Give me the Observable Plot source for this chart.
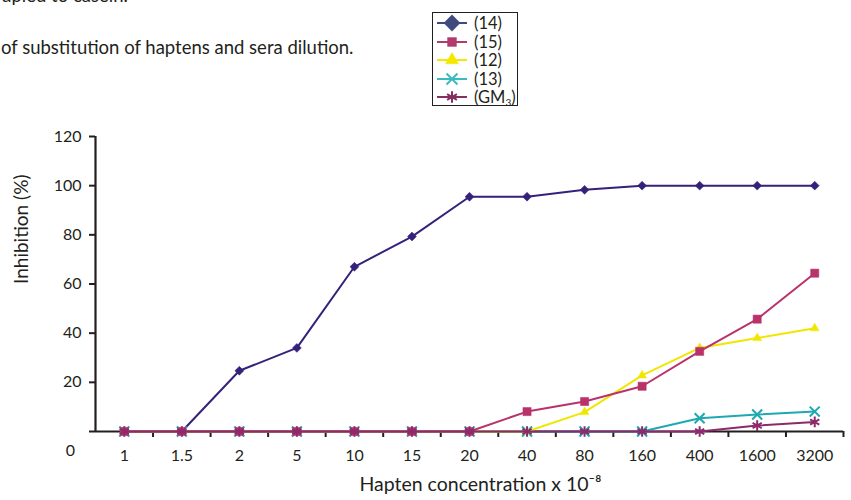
<!DOCTYPE html>
<html>
<head>
<meta charset="utf-8">
<script src="https://cdn.jsdelivr.net/npm/d3@7"></script>
<script src="https://cdn.jsdelivr.net/npm/@observablehq/plot@0.6"></script>
<style>
  body { margin: 0; background: #fff; font-family: Lato, "Noto Sans", sans-serif; color: #231f20; }
  #wrap { position: relative; width: 851px; height: 500px; overflow: hidden; }
  #chart { position: absolute; left: 0; top: 0; }
  .hdr { position: absolute; font-size: 18.5px; line-height: 22px; white-space: nowrap; color: #231f20; }
  #legend { position: absolute; left: 432px; top: 12px; width: 84px; height: 92px; border: 1.8px solid #231f20; background: #fff; }
  .lrow { position: absolute; left: 3px; height: 18px; line-height: 16px; display: flex; align-items: center; font-size: 16.5px; }
  .lrow svg { margin-right: 6px; }
  .lrow sub { font-size: 10px; line-height: 0; vertical-align: -3px; }
</style>
</head>
<body>
<div id="wrap">
  <div id="chart"></div>
  <div class="hdr" style="left:-18px; top:-16px;">coupled to casein.</div>
  <div class="hdr" style="left:1px; top:36px;">of substitution of haptens and sera dilution.</div>
  <div id="legend"></div>
</div>
<script>
// Categories (hapten concentration x 10^-8)
const categories = ["1", "1.5", "2", "5", "10", "15", "20", "40", "80", "160", "400", "1600", "3200"];

// Series values (% inhibition)
const s14 = [0, 0, 24.7, 34, 67, 79.3, 95.5, 95.5, 98.3, 100, 100, 100, 100];
const s15 = [0, 0, 0, 0, 0, 0, 0, 8.1, 12.2, 18.4, 32.6, 45.7, 64.4];
const s12 = [0, 0, 0, 0, 0, 0, 0, 0, 7.9, 22.8, 34, 38, 42];
const s13 = [0, 0, 0, 0, 0, 0, 0, 0, 0, 0, 5.4, 6.9, 8.1];
const sGM3 = [0, 0, 0, 0, 0, 0, 0, 0, 0, 0, 0, 2.4, 3.9];

const seriesNames = ["(14)", "(15)", "(12)", "(13)", "(GM3)"];
const seriesValues = [s14, s15, s12, s13, sGM3];
const lineColors = ["#35217a", "#b8336a", "#f2e600", "#1fa8b1", "#8c2a6c"];
const legendColors = ["#3f4b7d", "#b23a6e", "#f5e800", "#3cb9c2", "#86305f"];
const symbols = ["diamond2", "square2", "triangle2", "times", "asterisk"];
const symbolR = [4, 5.2, 4.2, 4.6, 5];
const drawOrder = [0, 3, 2, 1, 4];

const yTicks = [0, 20, 40, 60, 80, 100, 120];

const rows = [];
seriesValues.forEach((vals, k) => {
  vals.forEach((v, j) => rows.push({ series: seriesNames[k], k, i: j + 1, cat: categories[j], v }));
});

const ink = "#231f20";
const marks = [];
// axes
marks.push(Plot.axisY({ ticks: yTicks, tickFormat: d => d === 0 ? "" : String(d), tickSize: 6, tickPadding: 8,
  stroke: ink, strokeWidth: 2, fontSize: 16, fill: ink, label: null }));
marks.push(Plot.axisX({ ticks: categories.map((c, j) => j + 1), tickFormat: d => categories[d - 1],
  tickSize: 0, tickPadding: 18, fontSize: 16, fill: ink, label: null }));
marks.push(Plot.axisX({ ticks: categories.map((c, j) => j + 1.5), tickFormat: () => "",
  tickSize: 6, stroke: ink, strokeWidth: 2, label: null }));
marks.push(Plot.ruleX([0.5], { stroke: ink, strokeWidth: 2.2 }));
marks.push(Plot.ruleY([0], { stroke: ink, strokeWidth: 2.2 }));

// series
drawOrder.forEach(k => {
  const d = rows.filter(r => r.k === k);
  marks.push(Plot.line(d, { x: "i", y: "v", stroke: lineColors[k], strokeWidth: 2 }));
  const filled = symbols[k] === "diamond2" || symbols[k] === "square2" || symbols[k] === "triangle2";
  marks.push(Plot.dot(d, { x: "i", y: "v", symbol: () => symbols[k], r: symbolR[k],
    fill: filled ? lineColors[k] : "none", stroke: lineColors[k], strokeWidth: filled ? 0.5 : 2 }));
});

// axis titles
marks.push(Plot.text(["Inhibition (%)"], { frameAnchor: "left", rotate: -90, dx: -74, fontSize: 19, fill: ink }));
marks.push(Plot.text(["Hapten concentration x 10⁻⁸"], { frameAnchor: "bottom", dx: 11, dy: 59, fontSize: 19.5, fill: ink }));
marks.push(Plot.text(["0"], { frameAnchor: "bottom-left", dx: -25, dy: 24, fontSize: 16, fill: ink, textAnchor: "middle" }));

const chart = Plot.plot({
  width: 851, height: 500,
  marginLeft: 95, marginRight: 8, marginTop: 136, marginBottom: 69,
  x: { type: "linear", domain: [0.5, 13.5] },
  y: { domain: [0, 120] },
  style: { fontFamily: "Lato, 'Noto Sans', sans-serif", background: "#fff", overflow: "visible" },
  marks
});
document.getElementById("chart").appendChild(chart);

// legend
const legend = d3.select("#legend");
seriesNames.forEach((name, k) => {
  const row = legend.append("div").attr("class", "lrow").style("top", (1 + k * 18.5) + "px");
  const svg = row.append("svg").attr("width", 32).attr("height", 18);
  svg.append("line").attr("x1", 1).attr("x2", 31).attr("y1", 9).attr("y2", 9)
    .attr("stroke", legendColors[k]).attr("stroke-width", 2);
  const symType = [d3.symbolDiamond2, d3.symbolSquare2, d3.symbolTriangle2, d3.symbolTimes, d3.symbolAsterisk][k];
  const filled = k < 3;
  const size = [170, 100, 120, 80, 90][k];
  svg.append("path").attr("d", d3.symbol(symType, size)()).attr("transform", "translate(16,9)")
    .attr("fill", filled ? legendColors[k] : "none").attr("stroke", legendColors[k]).attr("stroke-width", filled ? 0.5 : 2);
  const t = row.append("span");
  if (name === "(GM3)") { t.html("(GM<sub>3</sub>)"); } else { t.text(name); }
});
</script>
</body>
</html>
